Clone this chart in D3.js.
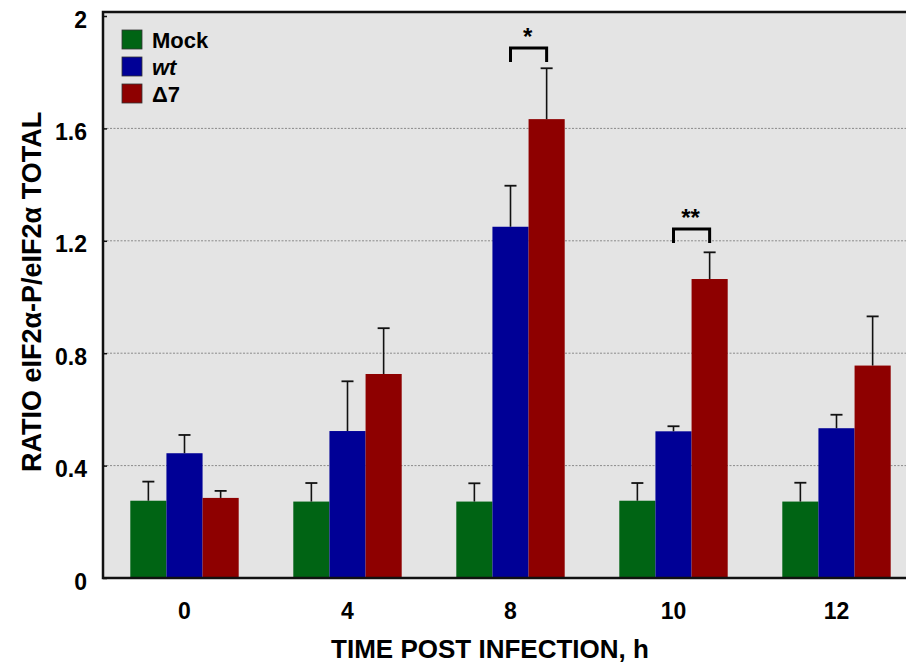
<!DOCTYPE html>
<html>
<head>
<meta charset="utf-8">
<script src="https://cdn.jsdelivr.net/npm/d3@7"></script>
<style>
  html, body { margin: 0; padding: 0; background: #fff; }
  svg { display: block; }
  text { font-family: "Liberation Sans", Arial, Helvetica, sans-serif; font-weight: bold; fill: #000; }
</style>
</head>
<body>
<svg id="chart" width="906" height="663"></svg>
<script>
// Time points (hours post infection)
const timePoints = ["0", "4", "8", "10", "12"];
const seriesNames = ["Mock", "wt", "Δ7"];
const seriesColors = ["#006414", "#000096", "#8e0000"];

// Mean ratio eIF2α-P / eIF2α total per time point
const mockValues = [0.275, 0.272, 0.272, 0.275, 0.272];
const wtValues   = [0.444, 0.523, 1.250, 0.522, 0.533];
const d7Values   = [0.285, 0.726, 1.633, 1.064, 0.756];

// Error bar half-lengths (upper side only)
const mockErr = [0.068, 0.066, 0.065, 0.063, 0.067];
const wtErr   = [0.065, 0.177, 0.146, 0.018, 0.048];
const d7Err   = [0.025, 0.163, 0.181, 0.095, 0.175];

const yTicks = [0, 0.4, 0.8, 1.2, 1.6, 2];

// Significance brackets between wt and Δ7
const sigTime = ["8", "10"];
const sigLabel = ["*", "**"];
const sigLevel = [1.886, 1.242];

const series = [
  { name: seriesNames[0], values: mockValues, err: mockErr, color: seriesColors[0] },
  { name: seriesNames[1], values: wtValues,   err: wtErr,   color: seriesColors[1] },
  { name: seriesNames[2], values: d7Values,   err: d7Err,   color: seriesColors[2] }
];

const svg = d3.select("#chart");
const plotLeft = 103, plotTop = 12, plotBottom = 578, plotRightEdge = 918;

const x0 = d3.scaleBand().domain(timePoints).range([plotLeft, plotRightEdge])
  .paddingInner(0.335).paddingOuter(0.1675);
const x1 = d3.scaleBand().domain(seriesNames).range([0, x0.bandwidth()]);
const y = d3.scaleLinear().domain([0, 2]).range([plotBottom, 16]);

// plot background
svg.append("rect")
  .attr("x", plotLeft).attr("y", plotTop)
  .attr("width", 906 - plotLeft + 10).attr("height", plotBottom - plotTop)
  .attr("fill", "#e4e4e4");

// dotted gridlines
svg.append("g").selectAll("line")
  .data(yTicks.filter(t => t > 0 && t < 2))
  .join("line")
  .attr("x1", plotLeft).attr("x2", 906)
  .attr("y1", d => y(d)).attr("y2", d => y(d))
  .attr("stroke", "#8a8a8a").attr("stroke-width", 1)
  .attr("stroke-dasharray", "2,1.5");

// bars
const groups = svg.append("g").selectAll("g")
  .data(timePoints)
  .join("g")
  .attr("transform", d => `translate(${x0(d)},0)`);

series.forEach(s => {
  groups.append("rect")
    .attr("x", x1(s.name))
    .attr("width", x1.bandwidth())
    .attr("y", (d, i) => y(s.values[i]))
    .attr("height", (d, i) => y(0) - y(s.values[i]))
    .attr("fill", s.color);
});

// error bars
series.forEach(s => {
  const cx = x1(s.name) + x1.bandwidth() / 2;
  groups.append("line")
    .attr("x1", cx).attr("x2", cx)
    .attr("y1", (d, i) => y(s.values[i]))
    .attr("y2", (d, i) => y(s.values[i] + s.err[i]))
    .attr("stroke", "#111").attr("stroke-width", 1.6);
  groups.append("line")
    .attr("x1", cx - 6).attr("x2", cx + 6)
    .attr("y1", (d, i) => y(s.values[i] + s.err[i]))
    .attr("y2", (d, i) => y(s.values[i] + s.err[i]))
    .attr("stroke", "#111").attr("stroke-width", 1.8);
});

// significance brackets
sigTime.forEach((t, k) => {
  const xa = x0(t) + x1("wt") + x1.bandwidth() / 2;
  const xb = x0(t) + x1("Δ7") + x1.bandwidth() / 2;
  const yt = y(sigLevel[k]);
  svg.append("path")
    .attr("d", `M${xa},${yt + 14}V${yt}H${xb}V${yt + 14}`)
    .attr("fill", "none").attr("stroke", "#000").attr("stroke-width", 3);
  svg.append("text")
    .attr("x", (xa + xb) / 2 - 1).attr("y", yt - 3)
    .attr("text-anchor", "middle")
    .style("font-size", "24px")
    .text(sigLabel[k]);
});

// frame: left and top borders, bottom axis
svg.append("path")
  .attr("d", `M906,${plotTop}H${plotLeft}V${plotBottom}H906`)
  .attr("fill", "none").attr("stroke", "#111").attr("stroke-width", 2.5);

// y axis ticks and labels
const yAxis = d3.axisLeft(y).tickValues(yTicks).tickSize(-4).tickPadding(16)
  .tickFormat(d => d === 0 ? "0" : d3.format("~g")(d));
const yg = svg.append("g").attr("transform", `translate(${plotLeft},0)`).call(yAxis);
yg.select(".domain").remove();
yg.selectAll(".tick line").attr("stroke", "#111").attr("stroke-width", 1.5);
yg.selectAll(".tick text")
  .style("font-size", "23px")
  .style("font-family", "'Liberation Sans', Arial, sans-serif")
  .style("font-weight", "bold")
  .attr("fill", "#000")
  .attr("dy", "0.48em");

// x axis labels
const xAxis = d3.axisBottom(x0).tickSize(0).tickPadding(25);
const xg = svg.append("g").attr("transform", `translate(0,${plotBottom})`).call(xAxis);
xg.select(".domain").remove();
xg.selectAll(".tick text")
  .style("font-size", "23px")
  .style("font-family", "'Liberation Sans', Arial, sans-serif")
  .style("font-weight", "bold")
  .attr("fill", "#000");

// axis titles
svg.append("text")
  .attr("x", 490).attr("y", 658)
  .attr("text-anchor", "middle")
  .style("font-size", "26px")
  .text("TIME POST INFECTION, h");

svg.append("text")
  .attr("transform", "translate(41,292) rotate(-90)")
  .attr("text-anchor", "middle")
  .style("font-size", "27px")
  .text("RATIO eIF2α-P/eIF2α TOTAL");

// legend
const legend = svg.append("g").attr("transform", "translate(122,30)");
series.forEach((s, i) => {
  legend.append("rect")
    .attr("x", 0).attr("y", i * 27)
    .attr("width", 20).attr("height", 19)
    .attr("fill", s.color).attr("stroke", "#333").attr("stroke-width", 0.8);
  legend.append("text")
    .attr("x", 30).attr("y", i * 27 + 18)
    .style("font-size", "22px")
    .style("font-style", s.name === "wt" ? "italic" : "normal")
    .text(s.name);
});
</script>
</body>
</html>
